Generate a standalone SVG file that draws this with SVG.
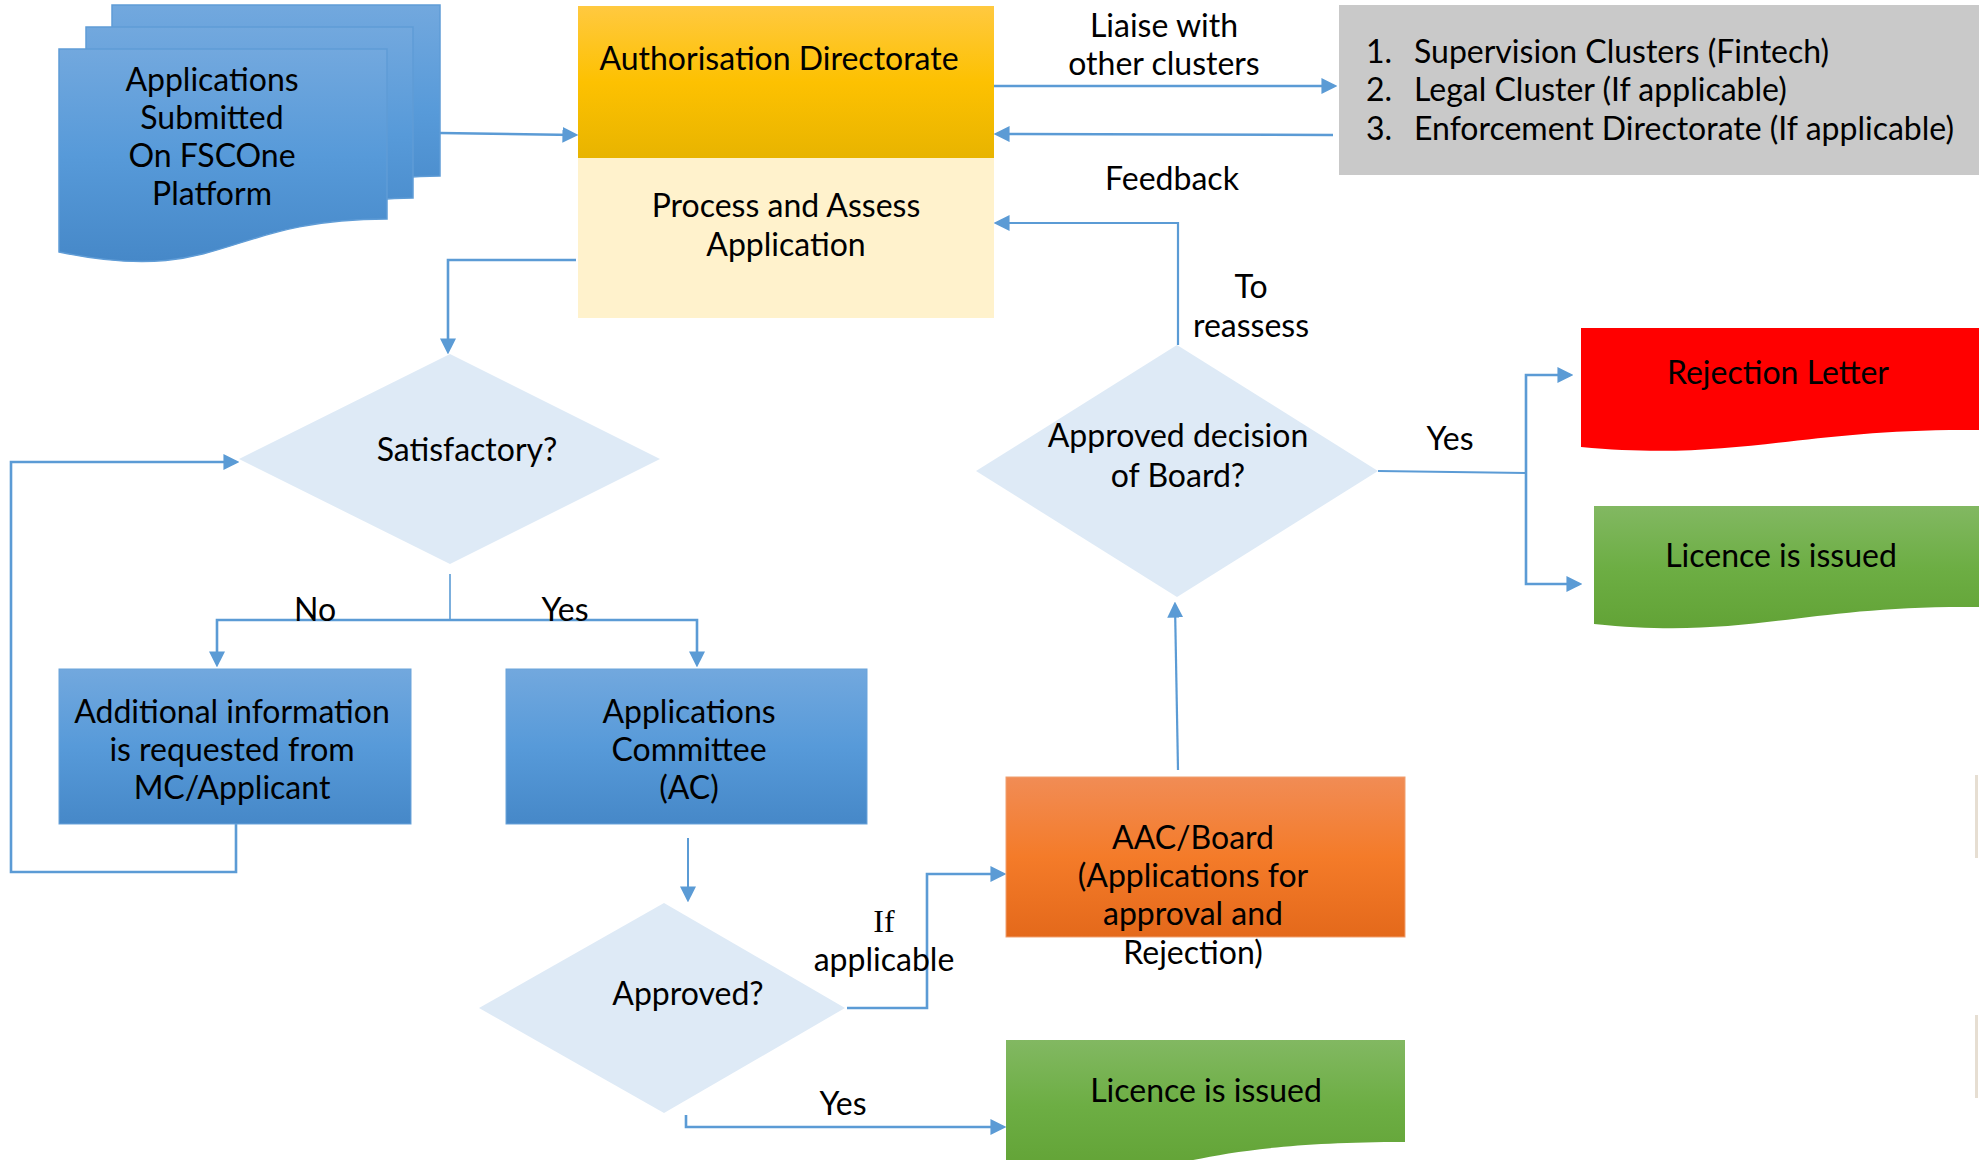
<svg xmlns="http://www.w3.org/2000/svg" width="1979" height="1160" viewBox="0 0 1979 1160">
<defs>
<style>
text{font-family:Lato,"Liberation Sans",sans-serif;font-size:32px;fill:#000;text-anchor:middle}
.lbl{font-size:32px}
.lst{text-anchor:start}
.ser{font-family:"Liberation Serif",serif}
.c{fill:none;stroke:#5b9bd5;stroke-width:2.6;marker-end:url(#ah)}
.cn{fill:none;stroke:#5b9bd5;stroke-width:2.6}
.dia{fill:#deeaf6}
</style>
<marker id="ah" markerUnits="userSpaceOnUse" markerWidth="16" markerHeight="16" viewBox="0 0 14 14" refX="11" refY="7" orient="auto"><path d="M0,0 L14,7 L0,14 Z" fill="#5b9bd5"/></marker>
<linearGradient id="gBlue" x1="0" y1="0" x2="0" y2="1"><stop offset="0" stop-color="#72a8de"/><stop offset="0.5" stop-color="#579ad9"/><stop offset="1" stop-color="#4688c8"/></linearGradient>
<linearGradient id="gGold" x1="0" y1="0" x2="0" y2="1"><stop offset="0" stop-color="#ffc940"/><stop offset="0.5" stop-color="#fdc101"/><stop offset="1" stop-color="#e8b400"/></linearGradient>
<linearGradient id="gOrange" x1="0" y1="0" x2="0" y2="1"><stop offset="0" stop-color="#f18c55"/><stop offset="0.5" stop-color="#f47b29"/><stop offset="1" stop-color="#e4691b"/></linearGradient>
<linearGradient id="gGreen" x1="0" y1="0" x2="0" y2="1"><stop offset="0" stop-color="#82b862"/><stop offset="0.5" stop-color="#6dae44"/><stop offset="1" stop-color="#62a336"/></linearGradient>
</defs>

<g id="connectors">
<path class="c" d="M440,133 L575,135"/>
<path class="c" d="M994,86 L1334,86"/>
<path class="c" d="M1333,135 L997,134"/>
<path class="c" d="M576,260 H448 V351"/>
<path class="cn" d="M450,574 V620" style="stroke-width:1.6"/>
<path class="c" d="M450,620 H217 V664"/>
<path class="c" d="M450,620 H697 V664"/>
<path class="c" d="M236,824 V872 H11 V462 H236"/>
<path class="c" d="M688,838 V899" style="stroke-width:2"/>
<path class="c" d="M847,1008 H927 V874 H1003"/>
<path class="c" d="M686,1115 V1127 H1003"/>
<path class="c" d="M1178,770 L1175,605" style="stroke-width:2.2"/>
<path class="c" d="M1178,345 V223 H997" style="stroke-width:2.2"/>
<path class="cn" d="M1378,471 L1526,473" style="stroke-width:1.8"/>
<path class="c" d="M1526,473 V375 H1570"/>
<path class="c" d="M1526,473 V584 H1579"/>
<text class="lbl" x="1164" y="37">Liaise with</text>
<text class="lbl" x="1164" y="75">other clusters</text>
<text class="lbl" x="1172" y="190">Feedback</text>
<text class="lbl" x="1251" y="298">To</text>
<text class="lbl" x="1251" y="337">reassess</text>
<text class="lbl" x="315" y="621">No</text>
<text class="lbl" x="565" y="621">Yes</text>
<text class="lbl ser" x="884" y="932">If</text>
<text class="lbl" x="884" y="971">applicable</text>
<text class="lbl" x="843" y="1115">Yes</text>
<text class="lbl" x="1450" y="450">Yes</text>
</g>

<g id="applications-submitted">
<path d="M112,5 H440 V176 C300,176 270,240 112,215 Z" fill="url(#gBlue)" stroke="#5f9cd6" stroke-width="1.5"/>
<path d="M86,27 H413 V198 C280,198 250,262 86,237 Z" fill="url(#gBlue)" stroke="#5f9cd6" stroke-width="1.5"/>
<path d="M59,49 H387 V219 C223,219 223,286 59,252 Z" fill="url(#gBlue)" stroke="#5f9cd6" stroke-width="1.5"/>
<text x="212" y="91">Applications</text>
<text x="212" y="129">Submitted</text>
<text x="212" y="167">On FSCOne</text>
<text x="212" y="205">Platform</text>
</g>

<g id="authorisation-directorate">
<rect x="578" y="6" width="416" height="152" fill="url(#gGold)"/>
<text x="779" y="70">Authorisation Directorate</text>
</g>

<g id="process-assess">
<rect x="578" y="158" width="416" height="160" fill="#fff2cc"/>
<text x="786" y="217">Process and Assess</text>
<text x="786" y="256">Application</text>
</g>

<g id="other-clusters">
<rect x="1339" y="5" width="640" height="170" fill="#c9c9c9"/>
<text class="lst" x="1366" y="63">1.</text>
<text class="lst" x="1414" y="63">Supervision Clusters (Fintech)</text>
<text class="lst" x="1366" y="101">2.</text>
<text class="lst" x="1414" y="101">Legal Cluster (If applicable)</text>
<text class="lst" x="1366" y="140">3.</text>
<text class="lst" x="1414" y="140">Enforcement Directorate (If applicable)</text>
</g>

<g id="satisfactory">
<polygon class="dia" points="450,354 660,459 450,564 239,459"/>
<text x="467" y="461">Satisfactory?</text>
</g>

<g id="additional-information">
<rect x="59" y="669" width="352" height="155" fill="url(#gBlue)" stroke="#6aa3da" stroke-width="1"/>
<text x="232" y="723">Additional information</text>
<text x="232" y="761">is requested from</text>
<text x="232" y="799">MC/Applicant</text>
</g>

<g id="applications-committee">
<rect x="506" y="669" width="361" height="155" fill="url(#gBlue)" stroke="#6aa3da" stroke-width="1"/>
<text x="689" y="723">Applications</text>
<text x="689" y="761">Committee</text>
<text x="689" y="799">(AC)</text>
</g>

<g id="approved">
<polygon class="dia" points="664,903 845,1008 664,1113 479,1008"/>
<text x="688" y="1005">Approved?</text>
</g>

<g id="aac-board">
<rect x="1006" y="777" width="399" height="160" fill="url(#gOrange)" stroke="#f0a070" stroke-width="1"/>
<text x="1193" y="849">AAC/Board</text>
<text x="1193" y="887">(Applications for</text>
<text x="1193" y="925">approval and</text>
<text x="1193" y="964">Rejection)</text>
</g>

<g id="licence-issued-bottom">
<path d="M1006,1040 H1405 V1142 C1260,1142 1200,1158 1150,1170 L1006,1170 Z" fill="url(#gGreen)"/>
<text x="1206" y="1102">Licence is issued</text>
</g>

<g id="approved-decision-board">
<polygon class="dia" points="1177,345 1378,471 1177,597 976,471"/>
<text x="1178" y="447">Approved decision</text>
<text x="1178" y="487">of Board?</text>
</g>

<g id="rejection-letter">
<path d="M1581,328 H1979 V430 C1800,428 1740,462 1581,447 Z" fill="#ff0000"/>
<text x="1778" y="384">Rejection Letter</text>
</g>

<g id="licence-issued-right">
<path d="M1594,506 H1979 V607 C1800,605 1750,640 1594,624 Z" fill="url(#gGreen)"/>
<text x="1781" y="567">Licence is issued</text>
</g>

<rect x="1975" y="775" width="3" height="83" fill="#e6ded2"/>
<rect x="1975" y="1015" width="3" height="83" fill="#e6ded2"/>
</svg>
